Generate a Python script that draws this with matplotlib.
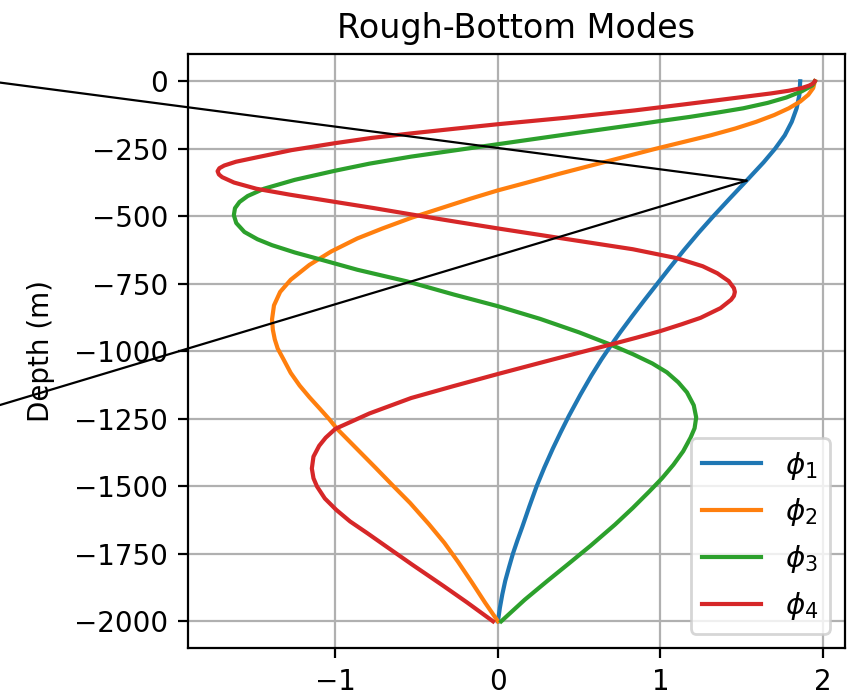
import numpy as np
import matplotlib.pyplot as plt
from matplotlib.patches import ConnectionPatch

# 模态剖面 (depth in m, amplitude)
z1 = [0, -50, -100, -150, -200, -250, -300, -368, -435, -500, -560, -625, -690,
      -750, -810, -870, -930, -974, -1030, -1090, -1160, -1240, -1300, -1360,
      -1430, -1500, -1575, -1650, -1700, -1750, -1800, -1850, -1900, -1950, -2000]
phi1 = [1.860, 1.855, 1.838, 1.808, 1.765, 1.705, 1.635, 1.530, 1.425, 1.325,
        1.236, 1.145, 1.058, 0.980, 0.902, 0.826, 0.752, 0.700, 0.637, 0.575,
        0.508, 0.436, 0.386, 0.338, 0.286, 0.238, 0.193, 0.150, 0.120, 0.092,
        0.068, 0.045, 0.027, 0.012, 0.0]

z2 = [0, -25, -50, -75, -100, -125, -150, -175, -200, -225, -250, -275, -300,
      -343, -375, -404, -435, -466, -505, -545, -582, -630, -680, -735, -780,
      -830, -882, -920, -956, -990, -1029, -1080, -1127, -1170, -1213, -1250,
      -1287, -1360, -1430, -1500, -1562, -1640, -1709, -1780, -1856, -1930, -2000]
phi2 = [1.950, 1.940, 1.910, 1.860, 1.790, 1.700, 1.590, 1.460, 1.310, 1.140,
        0.970, 0.810, 0.650, 0.375, 0.180, 0.0, -0.170, -0.330, -0.530, -0.710,
        -0.865, -1.025, -1.160, -1.275, -1.340, -1.378, -1.390, -1.385, -1.373,
        -1.355, -1.320, -1.275, -1.220, -1.160, -1.095, -1.040, -0.990, -0.870,
        -0.755, -0.642, -0.540, -0.425, -0.330, -0.245, -0.160, -0.080, 0.0]

z3 = [0, -15, -37, -60, -80, -100, -116, -132, -147, -160, -190, -233, -255,
      -279, -305, -331, -365, -398, -425, -447, -470, -496, -525, -558, -585,
      -607, -634, -662, -698, -741, -790, -833, -880, -930, -974, -1011, -1045,
      -1078, -1115, -1152, -1200, -1245, -1285, -1320, -1370, -1420, -1470,
      -1520, -1580, -1642, -1720, -1789, -1850, -1920, -2000]
phi3 = [1.950, 1.935, 1.870, 1.775, 1.660, 1.510, 1.350, 1.180, 1.000, 0.855,
        0.500, 0.0, -0.255, -0.534, -0.790, -1.000, -1.250, -1.440, -1.540,
        -1.590, -1.618, -1.625, -1.610, -1.560, -1.480, -1.390, -1.250, -1.080,
        -0.865, -0.560, -0.270, 0.0, 0.260, 0.500, 0.688, 0.832, 0.950, 1.040,
        1.110, 1.163, 1.205, 1.220, 1.210, 1.185, 1.140, 1.080, 1.010, 0.930,
        0.830, 0.720, 0.570, 0.430, 0.305, 0.165, 0.020]

z4 = [0, -8, -16, -25, -35, -45, -61, -86, -108, -135, -159, -176, -193, -210,
      -229, -255, -282, -298, -312, -322, -333, -345, -355, -375, -398, -420,
      -447, -470, -493, -520, -545, -585, -622, -655, -685, -711, -740, -766,
      -780, -795, -809, -840, -876, -900, -925, -950, -974, -1030, -1084, -1130,
      -1173, -1230, -1287, -1320, -1350, -1390, -1434, -1470, -1501, -1545,
      -1587, -1630, -1673, -1730, -1789, -1830, -1869, -1930, -2000]
phi4 = [1.950, 1.940, 1.915, 1.870, 1.790, 1.680, 1.470, 1.140, 0.840, 0.420,
        0.0, -0.270, -0.534, -0.780, -1.000, -1.270, -1.486, -1.612, -1.684,
        -1.714, -1.725, -1.717, -1.697, -1.624, -1.486, -1.280, -1.000, -0.760,
        -0.534, -0.260, 0.0, 0.430, 0.830, 1.100, 1.260, 1.350, 1.420, 1.452,
        1.458, 1.452, 1.435, 1.370, 1.247, 1.130, 1.000, 0.850, 0.700, 0.340,
        0.0, -0.280, -0.534, -0.790, -1.000, -1.060, -1.100, -1.135, -1.145,
        -1.135, -1.113, -1.065, -0.995, -0.910, -0.805, -0.670, -0.530, -0.430,
        -0.335, -0.190, -0.030]

labels = [r'$\phi_1$', r'$\phi_2$', r'$\phi_3$', r'$\phi_4$']

# 连接线端点
mark_x, mark_z = 1.53, -368
line_starts = [0.881, 0.4164]

fig = plt.figure(figsize=(4.28, 3.47), dpi=200)
ax = fig.add_axes([0.2193, 0.0658, 0.7675, 0.856])

for phi, z, lab in zip([phi1, phi2, phi3, phi4], [z1, z2, z3, z4], labels):
    ax.plot(phi, z, label=lab)

ax.set_title('Rough-Bottom Modes')
ax.set_ylabel('Depth (m)', labelpad=7)
ax.grid(True)
ax.legend(loc='lower right', fontsize=10.6)

for y0 in line_starts:
    con = ConnectionPatch(xyA=(0, y0), coordsA='figure fraction',
                          xyB=(mark_x, mark_z), coordsB='data', axesB=ax,
                          color='black', lw=0.8)
    fig.add_artist(con)

fig.savefig('out.png', dpi=200)
